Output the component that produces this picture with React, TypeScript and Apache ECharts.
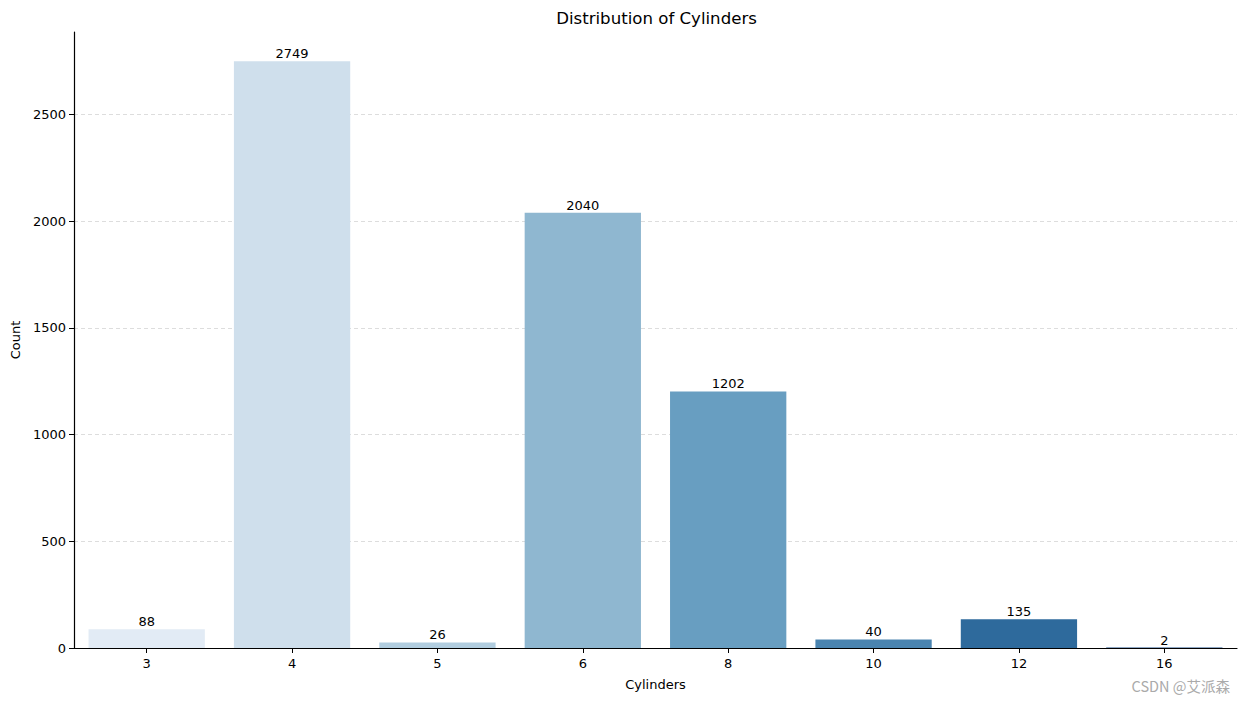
import React, { useEffect, useRef } from "react";
import * as echarts from "echarts";

const categories = ["3", "4", "5", "6", "8", "10", "12", "16"];
const counts = [88, 2749, 26, 2040, 1202, 40, 135, 2];
const barColors = ["#e2ebf5", "#cfdfec", "#b1cddf", "#8fb7d0", "#689ec1", "#4a84b0", "#2e6a9c", "#1d4f88"];
const gridValues = [500, 1000, 1500, 2000, 2500];

const FONT = "DejaVu Sans";

export default function App() {
  const ref = useRef<HTMLDivElement>(null);
  useEffect(() => {
    if (!ref.current) return;
    const chart = echarts.init(ref.current, undefined, { renderer: "svg" });
    const yMax = Math.max(...counts) * 1.05;
    chart.setOption({
      animation: false,
      backgroundColor: "#ffffff",
      title: {
        text: "Distribution of Cylinders",
        left: 651.5,
        textAlign: "center",
        top: 5,
        textStyle: { fontFamily: FONT, fontSize: 16.6, fontWeight: "normal", color: "#000" },
      },
      grid: { left: 74, right: 9, top: 32, bottom: 53, containLabel: false },
      xAxis: {
        type: "category",
        data: categories,
        name: "Cylinders",
        nameLocation: "middle",
        nameGap: 30,
        nameTextStyle: { fontFamily: FONT, fontSize: 13, color: "#000" },
        axisLine: { show: true, lineStyle: { color: "#000", width: 1.2 } },
        axisTick: { show: true, alignWithLabel: true, length: 5, lineStyle: { color: "#000" } },
        axisLabel: { fontFamily: FONT, fontSize: 13, color: "#000", margin: 9 },
        splitLine: { show: false },
      },
      yAxis: {
        type: "value",
        min: 0,
        max: yMax,
        interval: 500,
        name: "Count",
        nameLocation: "middle",
        nameGap: 52,
        nameTextStyle: { fontFamily: FONT, fontSize: 13, color: "#000" },
        axisLine: { show: true, lineStyle: { color: "#000", width: 1.2 } },
        axisTick: { show: true, length: 5, lineStyle: { color: "#000" } },
        axisLabel: {
          fontFamily: FONT,
          fontSize: 13,
          color: "#000",
          margin: 8,
          showMaxLabel: false,
          formatter: (v: number) => (v % 500 === 0 ? String(v) : ""),
        },
        splitLine: { show: false },
      },
      series: [
        {
          type: "bar",
          data: counts.map((v, i) => ({ value: v, itemStyle: { color: barColors[i] } })),
          barCategoryGap: "20%",
          label: {
            show: true,
            position: "top",
            distance: 1,
            fontFamily: FONT,
            fontSize: 13,
            color: "#000",
          },
          markLine: {
            silent: true,
            symbol: "none",
            label: { show: false },
            lineStyle: { color: "#d4d4d4", type: [4, 3], width: 0.8 },
            data: gridValues.map((v) => ({ yAxis: v })),
            z: 0,
          },
          z: 2,
        },
      ],
      graphic: [
        {
          type: "text",
          right: 16,
          bottom: 8,
          style: {
            text: "CSDN @艾派森",
            fontFamily: "Noto Sans CJK SC",
            fontSize: 14.5,
            fill: "#aaaaaa",
          },
        },
      ],
    });
    return () => chart.dispose();
  }, []);
  return <div ref={ref} style={{ width: 1246, height: 701, position: "absolute", left: 0, top: 0 }} />;
}
